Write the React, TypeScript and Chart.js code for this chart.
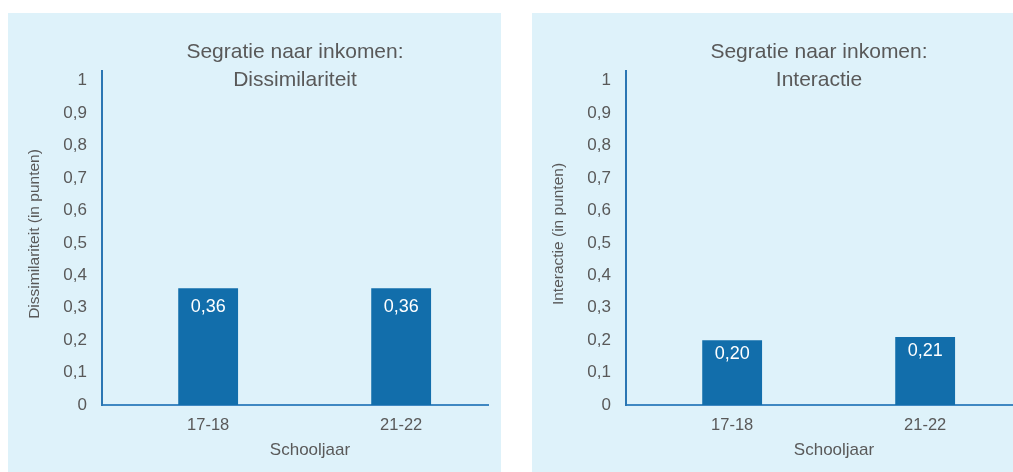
import React, { useEffect, useRef } from "react";
import { Chart, registerables } from "chart.js";

Chart.register(...registerables);

const categories = ["17-18", "21-22"];
const dissimilarityValues = [0.36, 0.36];
const interactionValues = [0.2, 0.21];
const yTickValues = [0, 0.1, 0.2, 0.3, 0.4, 0.5, 0.6, 0.7, 0.8, 0.9, 1];
const yTickLabels = ["0", "0,1", "0,2", "0,3", "0,4", "0,5", "0,6", "0,7", "0,8", "0,9", "1"];
const titleLine1 = "Segratie naar inkomen:";
const xAxisTitle = "Schooljaar";

const FONT = '"Liberation Sans", Arial, Helvetica, sans-serif';
const TEXT = "#595959";
const BAR = "#126eab";
const BG = "#def2fa";

type PanelProps = {
  title2: string;
  yTitle: string;
  values: number[];
  labelOffset: number;
};

function Panel({ title2, yTitle, values, labelOffset }: PanelProps) {
  const ref = useRef<HTMLCanvasElement | null>(null);
  useEffect(() => {
    if (!ref.current) return;
    const textPlugin = {
      id: "texts",
      afterDraw(chart: any) {
        const { ctx, chartArea } = chart;
        const cx = (chartArea.left + chartArea.right) / 2;
        ctx.save();
        ctx.fillStyle = TEXT;
        ctx.textAlign = "center";
        ctx.textBaseline = "alphabetic";
        ctx.font = `21px ${FONT}`;
        ctx.fillText(titleLine1, cx, chartArea.top - 13);
        ctx.fillText(title2, cx, chartArea.top + 15);
        ctx.textBaseline = "middle";
        ctx.font = `17px ${FONT}`;
        ctx.fillText(xAxisTitle, cx + 15, chartArea.bottom + 45.5);
        ctx.save();
        ctx.translate(27, (chartArea.top + chartArea.bottom) / 2 - 4);
        ctx.rotate(-Math.PI / 2);
        ctx.font = `15.5px ${FONT}`;
        ctx.fillText(yTitle, 0, 0);
        ctx.restore();
        // data labels
        const meta = chart.getDatasetMeta(0);
        ctx.fillStyle = "#ffffff";
        ctx.font = `18px ${FONT}`;
        meta.data.forEach((el: any, i: number) => {
          const v = values[i];
          ctx.fillText(v.toFixed(2).replace(".", ","), el.x, el.y + labelOffset);
        });
        ctx.restore();
      },
    };
    const chart = new Chart(ref.current, {
      type: "bar",
      data: {
        datasets: [
          {
            data: values.map((v, i) => ({ x: i, y: v })),
            backgroundColor: BAR,
            borderWidth: 0,
            barPercentage: 0.31,
            categoryPercentage: 1,
          },
        ],
      },
      options: {
        responsive: false,
        animation: false,
        layout: { padding: { top: 58, right: 13, left: 0, bottom: 0 } },
        plugins: {
          legend: { display: false },
          tooltip: { enabled: false },
          title: { display: false },
        },
        scales: {
          x: {
            type: "linear",
            offset: false,
            min: -0.55,
            max: 1.45,
            grid: { display: false, drawTicks: false, offset: false },
            border: { display: true, color: "#3f88c2", width: 2 },
            ticks: {
              font: { size: 16.5, family: FONT },
              color: TEXT,
              padding: 11,
              maxRotation: 0,
              autoSkip: false,
              callback: (_v: any, i: number) => categories[i],
            },
            afterBuildTicks: (s: any) => {
              s.ticks = categories.map((_c, i) => ({ value: i }));
            },
            afterFit: (s: any) => {
              s.height = 67;
            },
          },
          y: {
            type: "linear",
            min: 0,
            max: 1.03,
            grid: { display: false, drawTicks: false },
            border: { display: true, color: "#2a76b3", width: 2 },
            ticks: {
              font: { size: 17, family: FONT },
              color: TEXT,
              padding: 15,
              autoSkip: false,
              callback: (_v: any, i: number) => yTickLabels[i],
            },
            afterBuildTicks: (s: any) => {
              s.ticks = yTickValues.map((v) => ({ value: v }));
            },
            afterFit: (s: any) => {
              s.width = 94;
            },
          },
        },
      } as any,
      plugins: [textPlugin],
    });
    return () => chart.destroy();
  }, [title2, yTitle, values, labelOffset]);
  return <canvas ref={ref} width={493} height={459} style={{ display: "block" }} />;
}

export default function App() {
  return (
    <div
      style={{
        position: "fixed",
        top: 13,
        left: 8,
        width: 1005,
        height: 459,
        overflow: "hidden",
      }}
    >
      <div style={{ position: "absolute", left: 0, top: 0, width: 493, height: 459, background: BG }}>
        <Panel
          title2="Dissimilariteit"
          yTitle="Dissimilariteit (in punten)"
          values={dissimilarityValues}
          labelOffset={19}
        />
      </div>
      <div style={{ position: "absolute", left: 524, top: 0, width: 493, height: 459, background: BG }}>
        <Panel
          title2="Interactie"
          yTitle="Interactie (in punten)"
          values={interactionValues}
          labelOffset={14}
        />
      </div>
    </div>
  );
}
